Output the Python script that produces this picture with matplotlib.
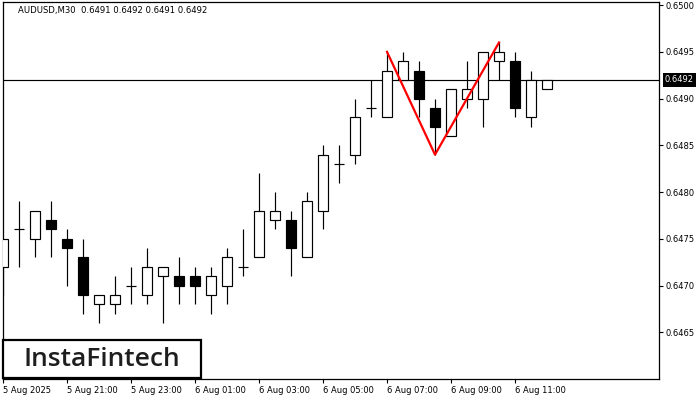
import matplotlib
matplotlib.use('Agg')
import matplotlib.pyplot as plt
from matplotlib.patches import Rectangle
import matplotlib.transforms as mtransforms

# ---- data (AUDUSD M30) ----
opens  = [0.6472, 0.6476, 0.6475, 0.6477, 0.6475, 0.6473, 0.6468, 0.6468, 0.6470, 0.6469,
          0.6471, 0.6471, 0.6471, 0.6469, 0.6470, 0.6472, 0.6473, 0.6477, 0.6477, 0.6473,
          0.6478, 0.6483, 0.6484, 0.6489, 0.6488, 0.6492, 0.6493, 0.6489, 0.6486, 0.6490,
          0.6490, 0.6494, 0.6494, 0.6488, 0.6491]
highs  = [0.6475, 0.6479, 0.6478, 0.6479, 0.6476, 0.6475, 0.6469, 0.6471, 0.6472, 0.6474,
          0.6472, 0.6473, 0.6472, 0.6472, 0.6474, 0.6476, 0.6482, 0.6480, 0.6478, 0.6480,
          0.6485, 0.6485, 0.6490, 0.6492, 0.6495, 0.6495, 0.6494, 0.6490, 0.6491, 0.6494,
          0.6495, 0.6496, 0.6495, 0.6493, 0.6492]
lows   = [0.6469, 0.6472, 0.6473, 0.6473, 0.6470, 0.6467, 0.6466, 0.6467, 0.6468, 0.6468,
          0.6466, 0.6468, 0.6468, 0.6467, 0.6468, 0.6471, 0.6473, 0.6476, 0.6471, 0.6473,
          0.6476, 0.6481, 0.6483, 0.6488, 0.6488, 0.6492, 0.6488, 0.6484, 0.6486, 0.6489,
          0.6487, 0.6492, 0.6488, 0.6487, 0.6491]
closes = [0.6475, 0.6476, 0.6478, 0.6476, 0.6474, 0.6469, 0.6469, 0.6469, 0.6470, 0.6472,
          0.6472, 0.6470, 0.6470, 0.6471, 0.6473, 0.6472, 0.6478, 0.6478, 0.6474, 0.6479,
          0.6484, 0.6483, 0.6488, 0.6489, 0.6493, 0.6494, 0.6490, 0.6487, 0.6491, 0.6491,
          0.6495, 0.6495, 0.6489, 0.6492, 0.6492]

pattern_idx = [24, 27, 31]
pattern_val = [0.6495, 0.6484, 0.6496]

bid_price = 0.6492
xtick_pos = [0, 4, 8, 12, 16, 20, 24, 28, 32]
xtick_labels = ["5 Aug 2025", "5 Aug 21:00", "5 Aug 23:00", "6 Aug 01:00", "6 Aug 03:00",
                "6 Aug 05:00", "6 Aug 07:00", "6 Aug 09:00", "6 Aug 11:00"]
ytick_vals = [0.6465, 0.6470, 0.6475, 0.6480, 0.6485, 0.6490, 0.6495, 0.6500]
title = "AUDUSD,M30  0.6491 0.6492 0.6491 0.6492"

# ---- figure ----
W, H = 700, 400
fig = plt.figure(figsize=(7, 4), dpi=100)
fig.patch.set_facecolor('white')
L, R, T, B = 2.7, 659.0, 2.3, 379.0
ax = fig.add_axes([L / W, (H - B) / H, (R - L) / W, (B - T) / H])
ax.set_facecolor('white')

x = list(range(len(opens)))
lw = 0.85

ax.axhline(bid_price, color='black', lw=lw, zorder=1)

ax.vlines(x, lows, highs, color='black', lw=lw, zorder=2)

bx, bb, bh, bc = [], [], [], []
dx, dy = [], []
for i in x:
    o, c = opens[i], closes[i]
    if abs(c - o) < 1e-9:
        dx.append(i)
        dy.append(o)
    else:
        bx.append(i)
        bb.append(min(o, c))
        bh.append(abs(c - o))
        bc.append('white' if c > o else 'black')
ax.bar(bx, bh, bottom=bb, width=0.64, color=bc, edgecolor='black', linewidth=lw, zorder=3)
ax.hlines(dy, [v - 0.34 for v in dx], [v + 0.34 for v in dx], color='black', lw=lw, zorder=3)

ax.plot(pattern_idx, pattern_val, color='red', lw=1.6, zorder=4)

ax.set_xlim(-0.02, 41.0)
ax.set_ylim(0.6460, 0.65003)

for s in ax.spines.values():
    s.set_color('black')
    s.set_linewidth(0.9)

ax.yaxis.tick_right()
ax.set_yticks(ytick_vals)
ax.set_yticklabels([f"{v:.4f}" for v in ytick_vals])
ax.tick_params(axis='y', direction='out', length=3, width=0.8, labelsize=6, pad=2, colors='black')
ax.set_xticks(xtick_pos)
ax.set_xticklabels(xtick_labels)
ax.tick_params(axis='x', direction='out', length=3, width=0.8, labelsize=6, pad=2, colors='black')
for lbl in ax.get_xticklabels():
    lbl.set_ha('left')

# bid price label
trans = mtransforms.blended_transform_factory(ax.transAxes, ax.transData)
ax.text(1.009, bid_price, f"{bid_price:.4f}", transform=trans, ha='left', va='center',
        color='white', fontsize=6, clip_on=False, zorder=6,
        bbox=dict(boxstyle='square,pad=0.28', fc='black', ec='none'))

# title
fig.text(18 / W, 1 - 11 / H, title, fontsize=6.1, ha='left', va='center', color='black')

# logo
fig.add_artist(Rectangle((3 / W, (H - 378) / H), 198 / W, 38 / H, transform=fig.transFigure,
                         facecolor='white', edgecolor='black', linewidth=1.6, zorder=10))
fig.text(101.5 / W, 1 - 359 / H, "InstaFintech", fontsize=19, family='Open Sans',
         fontweight='semibold', color='#1e1e1e', ha='center', va='center', zorder=11)

fig.savefig('out.png', dpi=100)
